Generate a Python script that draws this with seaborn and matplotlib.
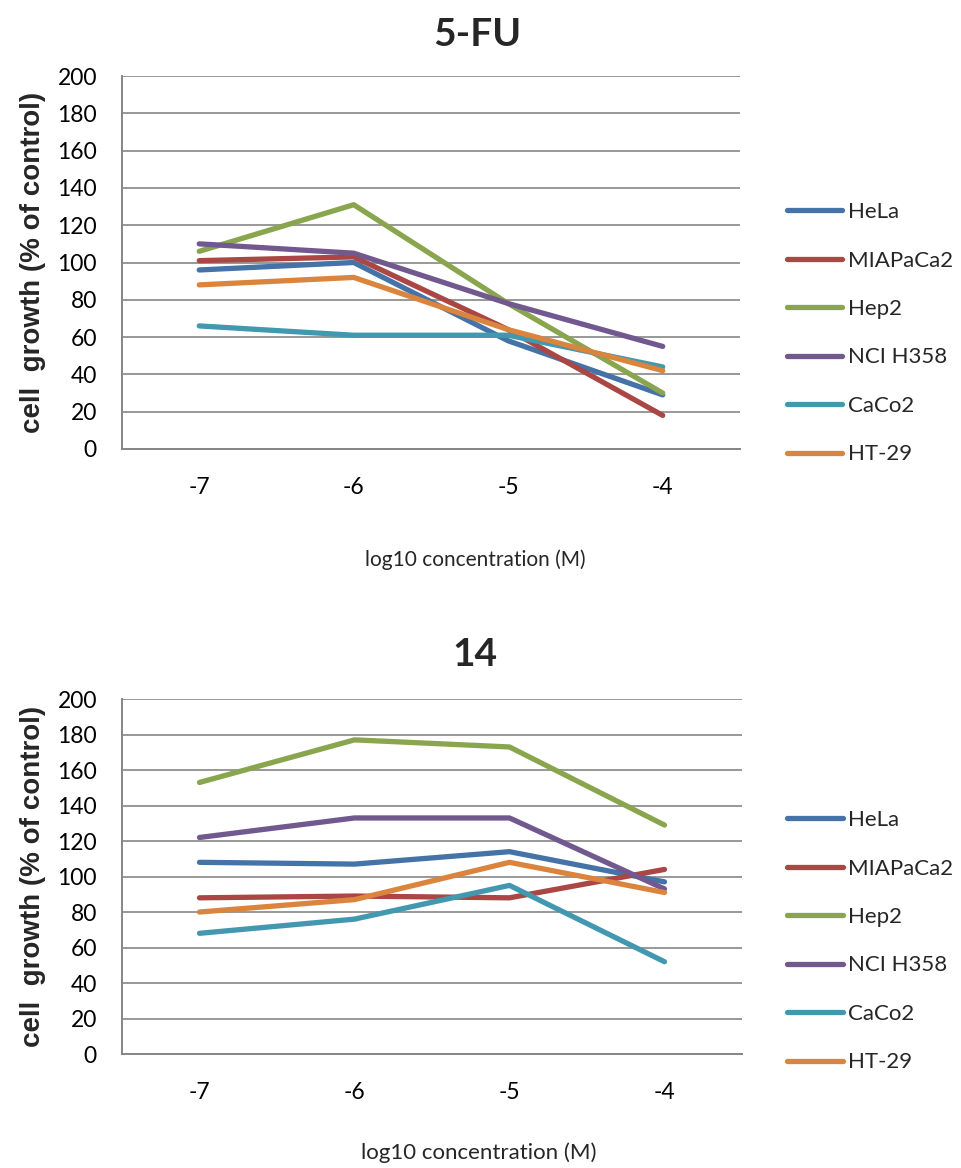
import seaborn as sns
import matplotlib.pyplot as plt
import pandas as pd
from matplotlib.lines import Line2D

# data
conc = [-7, -6, -5, -4]
cell_lines = ["HeLa", "MIAPaCa2", "Hep2", "NCI H358", "CaCo2", "HT-29"]
colors = ["#4572A7", "#AA4643", "#89A54E", "#71588F", "#4198AF", "#DB843D"]

fu_hela = [96, 100, 58, 29]
fu_mia = [101, 103, 64, 18]
fu_hep2 = [106, 131, 78, 30]
fu_nci = [110, 105, 78, 55]
fu_caco2 = [66, 61, 61, 44]
fu_ht29 = [88, 92, 64, 42]

c14_hela = [108, 107, 114, 97]
c14_mia = [88, 89, 88, 104]
c14_hep2 = [153, 177, 173, 129]
c14_nci = [122, 133, 133, 93]
c14_caco2 = [68, 76, 95, 52]
c14_ht29 = [80, 87, 108, 91]


def long_table(series):
    rows = []
    for name, vals in zip(cell_lines, series):
        for c, v in zip(conc, vals):
            rows.append({"conc": c, "growth": v, "line": name})
    return pd.DataFrame(rows)


df_fu = long_table([fu_hela, fu_mia, fu_hep2, fu_nci, fu_caco2, fu_ht29])
df_14 = long_table([c14_hela, c14_mia, c14_hep2, c14_nci, c14_caco2, c14_ht29])

sns.set_theme(style="white")
plt.rcParams['font.family'] = ['Lato', 'DejaVu Sans']

pal = dict(zip(cell_lines, colors))
grey = "#868686"

fig = plt.figure(figsize=(9.62, 11.68), dpi=100)
ax1 = fig.add_axes([0.1268, 0.6156, 0.6424, 0.3193])
ax2 = fig.add_axes([0.1268, 0.0976, 0.6445, 0.3039])


def style_axis(ax, df, leg_xy):
    sns.lineplot(data=df, x="conc", y="growth", hue="line", palette=pal,
                 linewidth=3.8, solid_capstyle="round", legend=False, ax=ax)
    ax.set_xlim(-7.5, -3.5)
    ax.set_ylim(0, 200)
    ax.set_xticks(conc)
    ax.set_xticklabels([str(c) for c in conc])
    ax.set_yticks(range(0, 201, 20))
    ax.yaxis.grid(True, color=grey, linewidth=1.2)
    ax.xaxis.grid(False)
    for s in ["top", "right"]:
        ax.spines[s].set_visible(False)
    for s in ["left", "bottom"]:
        ax.spines[s].set_color(grey)
        ax.spines[s].set_linewidth(1.4)
    ax.tick_params(axis="y", length=0, pad=18, labelsize=16.5, labelcolor="black")
    ax.tick_params(axis="x", length=0, pad=20, labelsize=16.5, labelcolor="black")
    ax.set_xlabel("")
    ax.set_ylabel("cell  growth (% of control)", fontsize=20, fontweight="bold",
                  family=["Liberation Sans", "DejaVu Sans"], labelpad=8)
    handles = [Line2D([0], [0], color=c, lw=3.8, solid_capstyle="round") for c in colors]
    ax.legend(handles, cell_lines, loc="upper left", bbox_to_anchor=leg_xy,
              frameon=False, fontsize=16, handlelength=2.5, handletextpad=0.25,
              labelspacing=1.28, borderpad=0, borderaxespad=0)


style_axis(ax1, df_fu, (1.076, 0.662))
style_axis(ax2, df_14, (1.073, 0.687))

fig.text(0.496, 1 - 34 / 1168, "5-FU", ha="center", va="center", fontsize=28, fontweight="bold")
fig.text(0.494, 1 - 655 / 1168, "14", ha="center", va="center", fontsize=28, fontweight="bold")

fig.text(0.494, 1 - 560 / 1168, "log10 concentration (M)", ha="center", va="center",
         fontsize=15)
fig.text(0.498, 1 - 1153 / 1168, "log10 concentration (M)", ha="center", va="center",
         fontsize=16)

plt.savefig("out.png", dpi=100)
